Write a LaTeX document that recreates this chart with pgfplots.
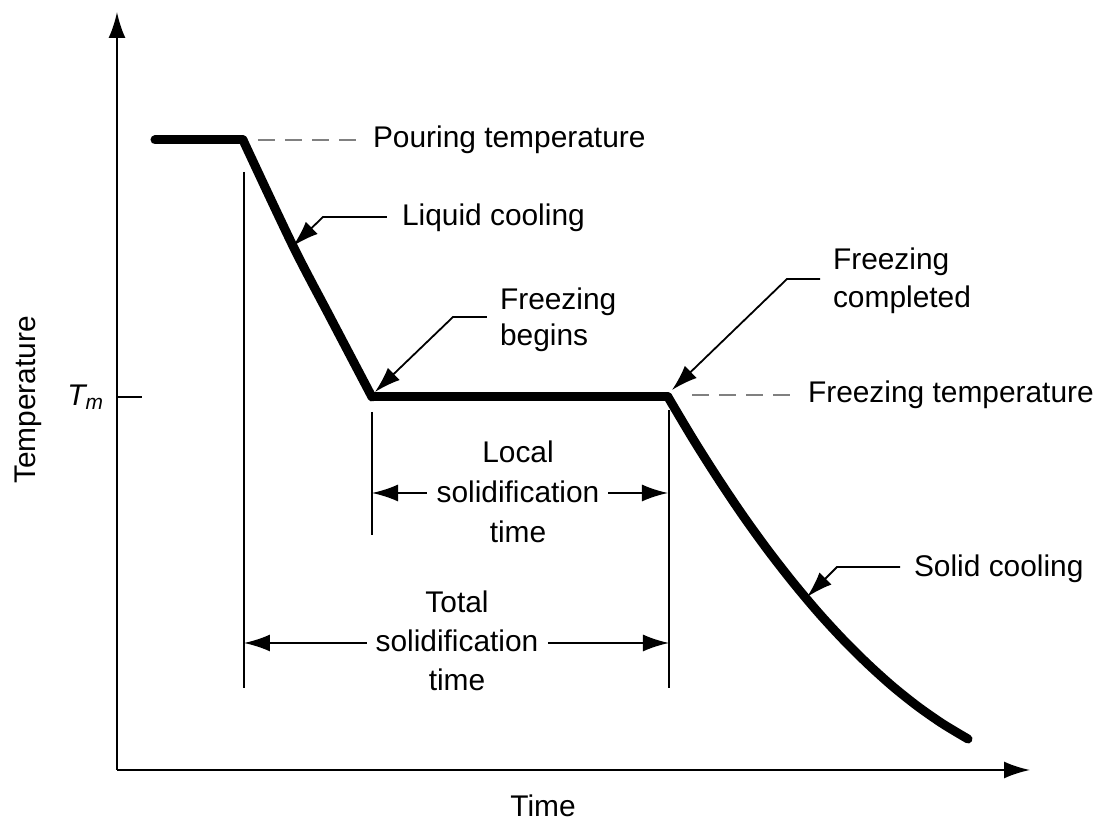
\documentclass[border=0pt]{standalone}
\usepackage{fontspec}
\setmainfont{Liberation Sans}
\usepackage{pgfplots}
\pgfplotsset{compat=1.18}
\usetikzlibrary{arrows.meta}
\begin{document}
\begin{tikzpicture}[font=\fontsize{15}{20}\selectfont,
  arr/.style={-{Latex[length=13bp,width=8.5bp]}},
  thinl/.style={line width=0.9bp, black},
  dsh/.style={line width=0.8bp, gray, dash pattern=on 8.5bp off 5bp},
  curve/.style={line width=4.5bp, black, line join=round, line cap=round}]
\begin{axis}[
  x=0.5bp, y=0.5bp,
  xmin=117, xmax=1030, ymin=54, ymax=812,
  enlargelimits=false,
  axis lines=left,
  axis line style={line width=1.1bp, -{Latex[length=13bp,width=8.5bp]}},
  xtick=\empty,
  ytick={427},
  yticklabels={\textit{T\textsubscript{m}}},
  yticklabel style={font=\fontsize{15}{20}\selectfont, xshift=-3bp},
  tick align=inside,
  major tick length=12.5bp,
  tick style={line width=1bp, black},
  clip=false,
]
% cooling curve
\addplot[curve] coordinates {(155,684)(243,684)};
\addplot[curve, smooth] coordinates {(243,684)(293,578)(330,507)(372,427)};
\addplot[curve] coordinates {(372,427)(668,427)};
\addplot[curve, smooth] coordinates {(668,427)(693,385)(718,345.5)(743,308.3)(768,273.7)(793,241.6)(818,211.8)(843,184.6)(868,159.8)(893,137.3)(918,117.4)(943,100)(968,85)};
% dimension lines
\addplot[thinl] coordinates {(244,652)(244,136)};
\addplot[thinl] coordinates {(372,412)(372,289)};
\addplot[thinl] coordinates {(669,414)(669,136)};
\addplot[thinl, arr] coordinates {(427,331)(372,331)};
\addplot[thinl, arr] coordinates {(608,331)(668,331)};
\addplot[thinl, arr] coordinates {(367,181)(244,181)};
\addplot[thinl, arr] coordinates {(548,181)(669,181)};
% dashed guides
\addplot[dsh] coordinates {(258,684)(357,684)};
\addplot[dsh] coordinates {(692,429)(790,429)};
% leaders
\addplot[thinl, arr] coordinates {(387,607)(323,607)(293,578)};
\addplot[thinl, arr] coordinates {(487,507)(453,507)(375,432)};
\addplot[thinl, arr] coordinates {(820,545)(787,545)(672,434)};
\addplot[thinl, arr] coordinates {(900,257)(837,257)(807,227)};
% texts
\node[anchor=west] at (axis cs:366,684) {Pouring temperature};
\node[anchor=west] at (axis cs:395,606) {Liquid cooling};
\node[anchor=west, align=left, font=\fontsize{15}{18}\selectfont] at (axis cs:493,504) {Freezing\\begins};
\node[anchor=west, align=left, font=\fontsize{15}{19}\selectfont] at (axis cs:826,543) {Freezing\\completed};
\node[anchor=west] at (axis cs:801,429) {Freezing temperature};
\node[anchor=west] at (axis cs:907,255) {Solid cooling};
\node[align=center] at (axis cs:518,332) {Local\\solidification\\time};
\node[align=center, font=\fontsize{15}{19.5}\selectfont] at (axis cs:457,183) {Total\\solidification\\time};
\node at (axis cs:543,18) {Time};
\node[rotate=90] at (axis cs:28,424) {Temperature};
\coordinate (BL) at (axis cs:0,0);
\coordinate (TR) at (axis cs:1101,824);
\end{axis}
\pgfresetboundingbox
\path (BL) rectangle (TR);
\end{tikzpicture}
\end{document}
